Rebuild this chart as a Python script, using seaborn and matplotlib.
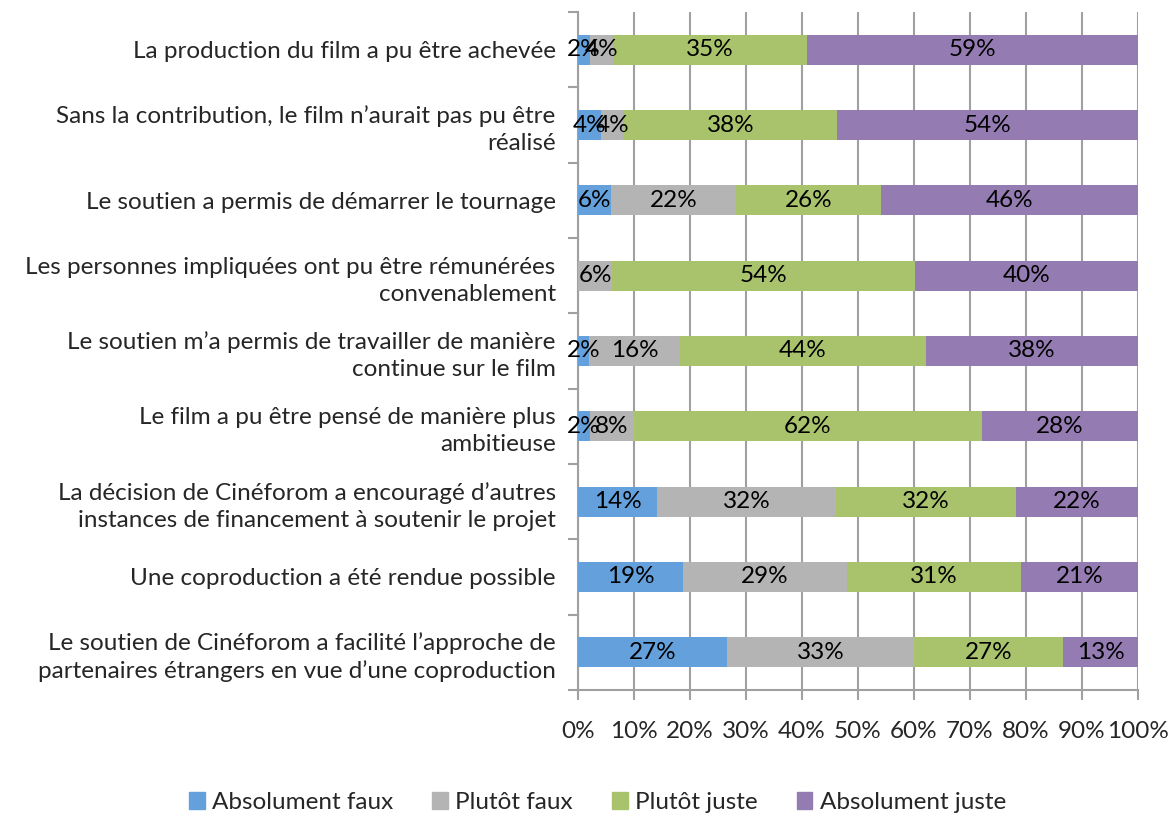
import pandas as pd
import numpy as np
import matplotlib
matplotlib.use('Agg')
import matplotlib.pyplot as plt
import seaborn as sns

# data (percent of respondents)
statements = [
    "La production du film a pu être achevée",
    "Sans la contribution, le film n\u2019aurait pas pu être\nréalisé",
    "Le soutien a permis de démarrer le tournage",
    "Les personnes impliquées ont pu être rémunérées\nconvenablement",
    "Le soutien m\u2019a permis de travailler de manière\ncontinue sur le film",
    "Le film a pu être pensé de manière plus\nambitieuse",
    "La décision de Cinéforom a encouragé d\u2019autres\ninstances de financement à soutenir le projet",
    "Une coproduction a été rendue possible",
    "Le soutien de Cinéforom a facilité l\u2019approche de\npartenaires étrangers en vue d\u2019une coproduction",
]
abs_faux = [2.1, 4.1, 5.9, 0.0, 2.0, 2.1, 14.1, 18.8, 26.7]
plutot_faux = [4.2, 4.0, 22.3, 6.1, 16.2, 7.9, 32.0, 29.2, 33.3]
plutot_juste = [34.6, 38.2, 25.9, 54.1, 43.9, 62.1, 32.1, 31.2, 26.7]
abs_juste = [59.1, 53.7, 45.9, 39.8, 37.9, 27.9, 21.8, 20.8, 13.3]

series_names = ["Absolument faux", "Plutôt faux", "Plutôt juste", "Absolument juste"]
colors = ["#64a0dc", "#b4b4b4", "#a9c36d", "#947cb2"]

df = pd.DataFrame({
    "statement": statements,
    "Absolument faux": abs_faux,
    "Plutôt faux": plutot_faux,
    "Plutôt juste": plutot_juste,
    "Absolument juste": abs_juste,
})
cum = df[series_names].cumsum(axis=1)

sns.set_style("white")
plt.rcParams['font.family'] = ['Lato', 'DejaVu Sans']
FS = 17.5

fig, ax = plt.subplots(figsize=(11.74, 8.17), dpi=100)
fig.subplots_adjust(left=0.4923, right=0.9693, top=0.9853, bottom=0.1555)

# stacked bars: draw cumulative totals from the widest down
for name, color in reversed(list(zip(series_names, colors))):
    sns.barplot(x=cum[name], y=df["statement"], color=color, width=0.4,
                orient='h', ax=ax, zorder=3, linewidth=0, saturation=1)

# centred percent labels
for name in series_names:
    left = cum[name] - df[name]
    for i, (l, v) in enumerate(zip(left, df[name])):
        if v > 0:
            ax.text(l + v / 2, i, f"{round(v):.0f}%", ha='center', va='center',
                    fontsize=FS, color='black', zorder=5)

ax.set_xlim(0, 100)
ax.set_ylim(len(statements) - 0.5, -0.5)
ax.set_xticks(np.arange(0, 101, 10))
ax.set_xticklabels([f"{t}%" for t in range(0, 101, 10)], fontsize=FS)
ax.set_yticks(range(len(statements)))
ax.set_yticklabels(statements, fontsize=FS, ha='right', ma='right', linespacing=1.35)
ax.set_yticks(np.arange(-0.5, len(statements), 1), minor=True)
ax.tick_params(axis='y', which='major', length=0, pad=16)
ax.tick_params(axis='y', which='minor', length=7, color='#a0a0a0', width=1.5, direction='out', left=True)
ax.tick_params(axis='x', length=7, color='#a0a0a0', width=1.5, direction='out', pad=15, bottom=True)
ax.set_xlabel('')
ax.set_ylabel('')
ax.grid(axis='x', color='#a0a0a0', linewidth=1.5, zorder=0)
ax.set_axisbelow(True)
for s in ['top', 'right']:
    ax.spines[s].set_visible(False)
for s in ['left', 'bottom']:
    ax.spines[s].set_color('#a0a0a0')
    ax.spines[s].set_linewidth(1.5)

handles = [plt.Rectangle((0, 0), 1, 1, color=c) for c in colors]
fig.legend(handles, series_names, loc='lower center', ncol=4, frameon=False,
           fontsize=FS, handlelength=0.65, handleheight=0.65, handletextpad=0.3,
           columnspacing=1.6, bbox_to_anchor=(0.509, -0.022))

fig.savefig('out.png', dpi=100)
